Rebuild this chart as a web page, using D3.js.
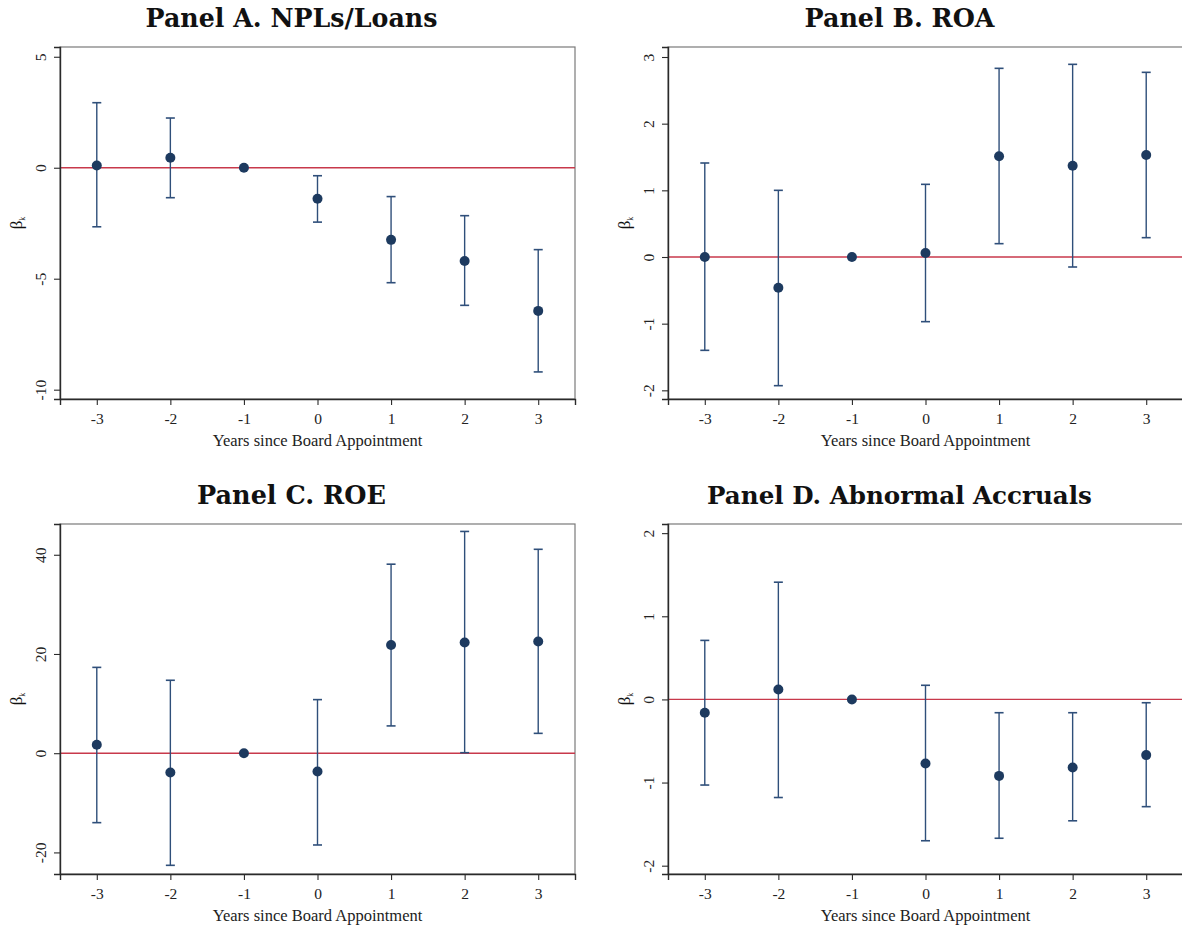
<!DOCTYPE html>
<html>
<head>
<meta charset="utf-8">
<script src="https://cdn.jsdelivr.net/npm/d3@7"></script>
<style>
  html, body { margin: 0; padding: 0; background: #fff; }
  svg { display: block; }
</style>
</head>
<body>
<svg id="chart" width="1182" height="929"></svg>
<script>
// ---- Data ----
const years = [-3, -2, -1, 0, 1, 2, 3];
const xTicks = [-3, -2, -1, 0, 1, 2, 3];

const titles = ["Panel A. NPLs/Loans", "Panel B. ROA", "Panel C. ROE", "Panel D. Abnormal Accruals"];
const xLabel = "Years since Board Appointment";

// Panel A: NPLs/Loans
const nplEst = [0.1, 0.45, 0, -1.4, -3.25, -4.2, -6.45];
const nplLo  = [-2.66, -1.35, 0, -2.45, -5.18, -6.2, -9.2];
const nplHi  = [2.93, 2.24, 0, -0.36, -1.3, -2.16, -3.69];
const nplTicks = [5, 0, -5, -10];

// Panel B: ROA
const roaEst = [0.0, -0.46, 0, 0.06, 1.51, 1.37, 1.53];
const roaLo  = [-1.4, -1.93, 0, -0.97, 0.2, -0.15, 0.29];
const roaHi  = [1.41, 1.0, 0, 1.09, 2.83, 2.89, 2.77];
const roaTicks = [3, 2, 1, 0, -1, -2];

// Panel C: ROE
const roeEst = [1.7, -3.9, 0, -3.7, 21.8, 22.3, 22.5];
const roeLo  = [-14.0, -22.6, 0, -18.5, 5.5, 0.1, 4.0];
const roeHi  = [17.3, 14.7, 0, 10.8, 38.1, 44.7, 41.1];
const roeTicks = [40, 20, 0, -20];

// Panel D: Abnormal Accruals
const aaEst = [-0.16, 0.12, 0, -0.77, -0.92, -0.82, -0.67];
const aaLo  = [-1.03, -1.18, 0, -1.7, -1.67, -1.46, -1.29];
const aaHi  = [0.71, 1.41, 0, 0.17, -0.16, -0.16, -0.04];
const aaTicks = [2, 1, 0, -1, -2];

// y-axis ranges
const yDomains = [[-10.42, 5.44], [-2.13, 3.15], [-24.35, 46.2], [-2.1, 2.11]];

// ---- Layout ----
const panels = [
  { est: nplEst, lo: nplLo, hi: nplHi, ticks: nplTicks, x0: 60,  x1: 575,  y0: 47,  y1: 399, titleW: 292 },
  { est: roaEst, lo: roaLo, hi: roaHi, ticks: roaTicks, x0: 668, x1: 1183, y0: 47,  y1: 399, titleW: 190 },
  { est: roeEst, lo: roeLo, hi: roeHi, ticks: roeTicks, x0: 60,  x1: 575,  y0: 524, y1: 874, titleW: 190 },
  { est: aaEst,  lo: aaLo,  hi: aaHi,  ticks: aaTicks,  x0: 668, x1: 1183, y0: 524, y1: 874, titleW: 385 }
];

const serif = "'Liberation Serif', 'DejaVu Serif', serif";
const titleFont = "'DejaVu Serif', 'Liberation Serif', serif";
const dotColor = "#1d3a5f";
const barColor = "#2f4f7a";
const zeroColor = "#c8394b";
const fmt = d => String(d);

const svg = d3.select("#chart");

panels.forEach((p, i) => {
  const g = svg.append("g");
  const x = d3.scaleLinear().domain([-3.5, 3.5]).range([p.x0, p.x1]);
  const y = d3.scaleLinear().domain(yDomains[i]).range([p.y1, p.y0]);

  // title: wide bold serif (Computer Modern Bold look), sized to the reference width
  const t = g.append("text")
    .attr("x", (p.x0 + p.x1) / 2 - 26)
    .attr("y", p.y0 - 20)
    .attr("text-anchor", "middle")
    .attr("font-family", titleFont)
    .attr("font-weight", "bold")
    .attr("font-size", 22)
    .attr("fill", "#111")
    .text(titles[i]);
  const w22 = t.node().getComputedTextLength();
  t.attr("font-size", Math.min(25.5, 22 * p.titleW / w22));

  // plot region frame (light)
  g.append("rect")
    .attr("x", p.x0).attr("y", p.y0)
    .attr("width", p.x1 - p.x0).attr("height", p.y1 - p.y0)
    .attr("fill", "none").attr("stroke", "#7a7a7a").attr("stroke-width", 1.2);

  // zero line
  g.append("line")
    .attr("x1", p.x0).attr("x2", p.x1)
    .attr("y1", y(0)).attr("y2", y(0))
    .attr("stroke", zeroColor).attr("stroke-width", 1.4);

  // y axis
  const yAxis = d3.axisLeft(y).tickValues(p.ticks).tickSize(6).tickPadding(4).tickFormat(fmt);
  const ya = g.append("g").attr("transform", `translate(${p.x0},0)`).call(yAxis);
  ya.select(".domain").attr("stroke", "#2a2a2a").attr("stroke-width", 1.4);
  ya.selectAll(".tick line").attr("stroke", "#2a2a2a").attr("stroke-width", 1.1);
  ya.selectAll(".tick text")
    .attr("font-family", serif).attr("font-size", 15.5).attr("fill", "#222")
    .attr("x", null).attr("dy", null)
    .attr("text-anchor", "middle")
    .attr("transform", "translate(-14,0) rotate(-90)");

  // x axis
  const xAxis = d3.axisBottom(x).tickValues(xTicks).tickSize(6).tickPadding(8).tickFormat(fmt);
  const xa = g.append("g").attr("transform", `translate(0,${p.y1})`).call(xAxis);
  xa.select(".domain").attr("stroke", "#2a2a2a").attr("stroke-width", 1.4);
  xa.selectAll(".tick line").attr("stroke", "#2a2a2a").attr("stroke-width", 1.1);
  xa.selectAll(".tick text")
    .attr("font-family", serif).attr("font-size", 15.5).attr("fill", "#222");

  // x label
  g.append("text")
    .attr("x", (p.x0 + p.x1) / 2)
    .attr("y", p.y1 + 47)
    .attr("text-anchor", "middle")
    .attr("font-family", serif).attr("font-size", 16.5).attr("fill", "#222")
    .text(xLabel);

  // y label beta_k
  const yl = g.append("text")
    .attr("transform", `translate(${p.x0 - 38},${(p.y0 + p.y1) / 2}) rotate(-90)`)
    .attr("text-anchor", "middle")
    .attr("font-family", serif).attr("fill", "#111");
  yl.append("tspan").attr("font-size", 17).text("β");
  yl.append("tspan").attr("font-size", 8).attr("dy", 3).text("k");

  // error bars + points
  const rows = years.map((yr, k) => ({ yr, est: p.est[k], lo: p.lo[k], hi: p.hi[k] }));
  const eb = g.append("g");
  rows.filter(d => d.hi !== d.lo).forEach(d => {
    eb.append("line")
      .attr("x1", x(d.yr)).attr("x2", x(d.yr))
      .attr("y1", y(d.lo)).attr("y2", y(d.hi))
      .attr("stroke", barColor).attr("stroke-width", 1.4);
    [d.lo, d.hi].forEach(v => {
      eb.append("line")
        .attr("x1", x(d.yr) - 4.5).attr("x2", x(d.yr) + 4.5)
        .attr("y1", y(v)).attr("y2", y(v))
        .attr("stroke", barColor).attr("stroke-width", 1.6);
    });
  });
  g.append("g").selectAll("circle").data(rows).join("circle")
    .attr("cx", d => x(d.yr)).attr("cy", d => y(d.est))
    .attr("r", 5).attr("fill", dotColor);
});
</script>
</body>
</html>
